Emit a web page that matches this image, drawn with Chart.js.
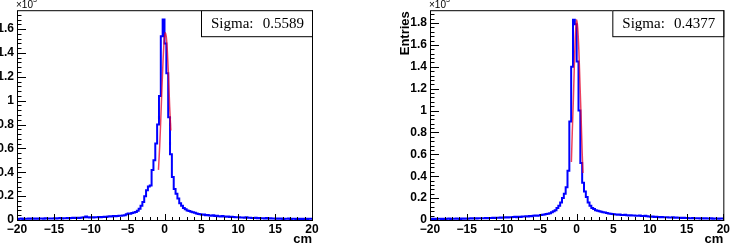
<!DOCTYPE html>
<html>
<head>
<meta charset="utf-8">
<script src="https://cdn.jsdelivr.net/npm/chart.js@4.4.3/dist/chart.umd.min.js"></script>
<style>
    html, body { margin: 0; padding: 0; background: #fff; }
    #wrap { position: relative; width: 732px; height: 244px; overflow: hidden; }
    canvas { position: absolute; top: 0; }
</style>
</head>
<body>
<div id="wrap">
    <canvas id="left" width="366" height="244" style="left:0"></canvas>
    <canvas id="right" width="366" height="244" style="left:366px"></canvas>
</div>
<script>
// binning of both histograms (cm)
const xMin = -20, xMax = 20, binWidth = 0.25;
const xTicks = [-20, -15, -10, -5, 0, 5, 10, 15, 20];

// bin contents, x10^3 entries, 160 bins from -20 to 20
const leftCounts = [
    // -20 .. -15
    0.010, 0.008, 0.010, 0.012, 0.009, 0.011, 0.010, 0.012, 0.010, 0.013, 0.011, 0.012, 0.010, 0.013, 0.012, 0.011, 0.014, 0.012, 0.013, 0.012,
    // -15 .. -10
    0.013, 0.015, 0.012, 0.014, 0.016, 0.013, 0.015, 0.014, 0.017, 0.015, 0.016, 0.018, 0.016, 0.019, 0.017, 0.019, 0.020, 0.024, 0.029, 0.024,
    // -10 .. -5
    0.021, 0.023, 0.020, 0.024, 0.022, 0.025, 0.023, 0.026, 0.027, 0.025, 0.029, 0.031, 0.030, 0.033, 0.032, 0.034, 0.036, 0.035, 0.038, 0.040,
    // -5 .. -3
    0.048, 0.055, 0.052, 0.058, 0.062, 0.068, 0.078, 0.095,
    // -3 .. 0
    0.12, 0.15, 0.20, 0.25, 0.28, 0.29, 0.42, 0.50, 0.64, 0.80, 1.04, 1.54,
    // 0 .. 2.5
    1.68, 1.48, 1.23, 0.86, 0.55, 0.36, 0.26, 0.22, 0.18, 0.14,
    // 2.5 .. 5
    0.12, 0.10, 0.09, 0.08, 0.075, 0.07, 0.065, 0.06, 0.055, 0.05,
    // 5 .. 10
    0.048, 0.044, 0.046, 0.040, 0.042, 0.038, 0.036, 0.039, 0.034, 0.035, 0.032, 0.030, 0.033, 0.029, 0.028, 0.030, 0.026, 0.027, 0.025, 0.024,
    // 10 .. 15
    0.022, 0.024, 0.020, 0.021, 0.019, 0.022, 0.018, 0.019, 0.017, 0.016, 0.018, 0.015, 0.016, 0.014, 0.015, 0.013, 0.016, 0.012, 0.014, 0.013,
    // 15 .. 20
    0.012, 0.011, 0.013, 0.010, 0.012, 0.009, 0.011, 0.010, 0.012, 0.009, 0.010, 0.011, 0.008, 0.010, 0.009, 0.011, 0.008, 0.010, 0.009, 0.010
];

const rightCounts = [
    // -20 .. -15
    0.010, 0.012, 0.009, 0.011, 0.010, 0.012, 0.011, 0.009, 0.012, 0.010, 0.011, 0.013, 0.010, 0.012, 0.011, 0.013, 0.012, 0.010, 0.013, 0.012,
    // -15 .. -10
    0.013, 0.012, 0.014, 0.015, 0.013, 0.016, 0.014, 0.015, 0.017, 0.016, 0.015, 0.018, 0.017, 0.019, 0.018, 0.020, 0.019, 0.021, 0.020, 0.022,
    // -10 .. -5
    0.021, 0.023, 0.025, 0.022, 0.026, 0.024, 0.027, 0.029, 0.026, 0.030, 0.028, 0.032, 0.031, 0.034, 0.033, 0.036, 0.035, 0.038, 0.040, 0.039,
    // -5 .. -3
    0.042, 0.045, 0.048, 0.050, 0.055, 0.058, 0.062, 0.070,
    // -3 .. 0
    0.08, 0.09, 0.11, 0.13, 0.16, 0.20, 0.24, 0.30, 0.45, 0.90, 1.40, 1.83,
    // 0 .. 2.5
    1.79, 1.45, 1.00, 0.52, 0.34, 0.26, 0.21, 0.16, 0.13, 0.11,
    // 2.5 .. 5
    0.10, 0.09, 0.085, 0.08, 0.075, 0.07, 0.068, 0.065, 0.06, 0.058,
    // 5 .. 10
    0.055, 0.052, 0.050, 0.048, 0.050, 0.046, 0.045, 0.047, 0.043, 0.042, 0.044, 0.040, 0.041, 0.039, 0.038, 0.040, 0.037, 0.036, 0.038, 0.035,
    // 10 .. 15
    0.032, 0.030, 0.031, 0.028, 0.029, 0.027, 0.026, 0.028, 0.025, 0.024, 0.026, 0.023, 0.022, 0.024, 0.021, 0.022, 0.020, 0.021, 0.019, 0.020,
    // 15 .. 20
    0.018, 0.019, 0.017, 0.016, 0.018, 0.015, 0.016, 0.017, 0.014, 0.015, 0.013, 0.016, 0.014, 0.013, 0.015, 0.012, 0.014, 0.013, 0.012, 0.013
];

// gaussian fit curves
const leftFitX = [-0.82, -0.65, -0.5, -0.35, -0.2, -0.05, 0.1, 0.25, 0.4, 0.55, 0.7, 0.86];
const leftFitY = [0.42, 0.62, 0.85, 1.10, 1.33, 1.50, 1.57, 1.53, 1.40, 1.20, 0.95, 0.75];
const rightFitX = [-0.72, -0.6, -0.45, -0.3, -0.15, 0, 0.15, 0.3, 0.45, 0.6, 0.75, 0.86];
const rightFitY = [0.53, 0.80, 1.10, 1.45, 1.72, 1.83, 1.75, 1.55, 1.25, 0.95, 0.62, 0.43];

const leftYTicks = [0, 0.2, 0.4, 0.6, 0.8, 1, 1.2, 1.4, 1.6];
const rightYTicks = [0, 0.2, 0.4, 0.6, 0.8, 1, 1.2, 1.4, 1.6, 1.8];
const leftSigma = '0.5589';
const rightSigma = '0.4377';

const sansFont = '"Liberation Sans", Arial, sans-serif';
const serifFont = '"Liberation Serif", "Times New Roman", serif';

// ROOT style frame: inward ticks, exponent, axis title, stats box
const rootFrame = {
    id: 'rootFrame',
    afterDraw(chart, args, opts) {
        const { ctx, chartArea: a, scales: { x, y } } = chart;
        ctx.save();
        ctx.strokeStyle = '#000';
        ctx.fillStyle = '#000';
        ctx.lineWidth = 1;

        ctx.beginPath();
        for (let v = xMin; v <= xMax; v++) {
            const px = Math.round(x.getPixelForValue(v)) + 0.5;
            const len = v % 5 === 0 ? 6 : 3;
            ctx.moveTo(px, a.bottom);
            ctx.lineTo(px, a.bottom - len);
        }
        for (let k = 0; k * 0.04 <= opts.yMax + 1e-9; k++) {
            const py = Math.round(y.getPixelForValue(k * 0.04)) + 0.5;
            const len = k % 5 === 0 ? 9 : 4.5;
            ctx.moveTo(a.left, py);
            ctx.lineTo(a.left + len, py);
        }
        ctx.stroke();

        ctx.strokeRect(a.left + 0.5, a.top + 0.5, a.right - a.left, a.bottom - a.top);

        // exponent
        ctx.textAlign = 'left';
        ctx.textBaseline = 'alphabetic';
        ctx.font = `10px ${sansFont}`;
        ctx.fillText('\u00d710', a.left - 1, 7.5);
        const w = ctx.measureText('\u00d710').width;
        ctx.font = `7px ${sansFont}`;
        ctx.fillText('3', a.left - 1 + w, 2);

        // x title
        ctx.font = `bold 13px ${sansFont}`;
        ctx.textAlign = 'right';
        ctx.fillText('cm', a.right, 243);

        // y title
        if (opts.yTitle) {
            ctx.save();
            ctx.translate(opts.yTitleX, a.top + 1);
            ctx.rotate(-Math.PI / 2);
            ctx.textAlign = 'right';
            ctx.textBaseline = 'middle';
            ctx.fillText(opts.yTitle, 0, 0);
            ctx.restore();
        }

        // stats box
        const bw = 111, bh = 26;
        const bx = a.right - bw, by = a.top;
        ctx.fillStyle = '#fff';
        ctx.fillRect(bx, by, bw, bh);
        ctx.strokeRect(bx + 0.5, by + 0.5, bw, bh);
        ctx.fillStyle = '#000';
        ctx.font = `15px ${serifFont}`;
        ctx.textAlign = 'left';
        ctx.fillText('Sigma:', bx + 10, by + 18);
        ctx.textAlign = 'right';
        ctx.fillText(opts.sigma, a.right - 8, by + 18);
        ctx.restore();
    }
};

function histPoints(counts) {
    const pts = counts.map((c, i) => ({ x: xMin + i * binWidth, y: c }));
    pts.push({ x: xMax, y: counts[counts.length - 1] });
    return pts;
}

function makePanel(canvasId, p) {
    const fit = p.fitX.map((fx, i) => ({ x: fx, y: p.fitY[i] }));
    return new Chart(document.getElementById(canvasId), {
        type: 'line',
        data: {
            datasets: [
                {
                    data: fit,
                    order: 0,
                    borderColor: 'rgba(230, 0, 40, 0.75)',
                    borderWidth: 1.5,
                    pointRadius: 0,
                    fill: false,
                    cubicInterpolationMode: 'monotone'
                },
                {
                    data: histPoints(p.counts),
                    order: 1,
                    borderColor: '#0000ff',
                    borderWidth: 2,
                    pointRadius: 0,
                    fill: false,
                    stepped: 'after'
                }
            ]
        },
        options: {
            responsive: false,
            animation: false,
            devicePixelRatio: 1,
            layout: { padding: { top: 9, right: p.padRight, left: 0, bottom: 0 } },
            plugins: {
                legend: { display: false },
                tooltip: { enabled: false },
                rootFrame: { yMax: p.yMax, sigma: p.sigma, yTitle: p.yTitle, yTitleX: p.yTitleX }
            },
            scales: {
                x: {
                    type: 'linear',
                    min: xMin,
                    max: xMax,
                    grid: { display: false, drawTicks: false },
                    border: { display: false },
                    afterBuildTicks: s => { s.ticks = xTicks.map(v => ({ value: v })); },
                    afterFit: s => { s.height = 24; },
                    ticks: {
                        autoSkip: false,
                        maxRotation: 0,
                        padding: 2,
                        color: '#000',
                        font: { family: sansFont, weight: 'bold', size: 12 },
                        callback: v => String(v).replace('-', '\u2212')
                    }
                },
                y: {
                    type: 'linear',
                    min: 0,
                    max: p.yMax,
                    grid: { display: false, drawTicks: false },
                    border: { display: false },
                    afterBuildTicks: s => { s.ticks = p.yTicks.map(v => ({ value: v })); },
                    afterFit: s => { s.width = p.axisWidth; },
                    ticks: {
                        padding: 3,
                        color: '#000',
                        font: { family: sansFont, weight: 'bold', size: 12 },
                        callback: v => String(+v.toFixed(1))
                    }
                }
            }
        },
        plugins: [rootFrame]
    });
}

makePanel('left', {
    counts: leftCounts, fitX: leftFitX, fitY: leftFitY,
    yMax: 1.758, yTicks: leftYTicks, sigma: leftSigma,
    axisWidth: 17, padRight: 54
});

makePanel('right', {
    counts: rightCounts, fitX: rightFitX, fitY: rightFitY,
    yMax: 1.918, yTicks: rightYTicks, sigma: rightSigma,
    yTitle: 'Entries', yTitleX: 39,
    axisWidth: 64, padRight: 8
});
</script>
</body>
</html>
